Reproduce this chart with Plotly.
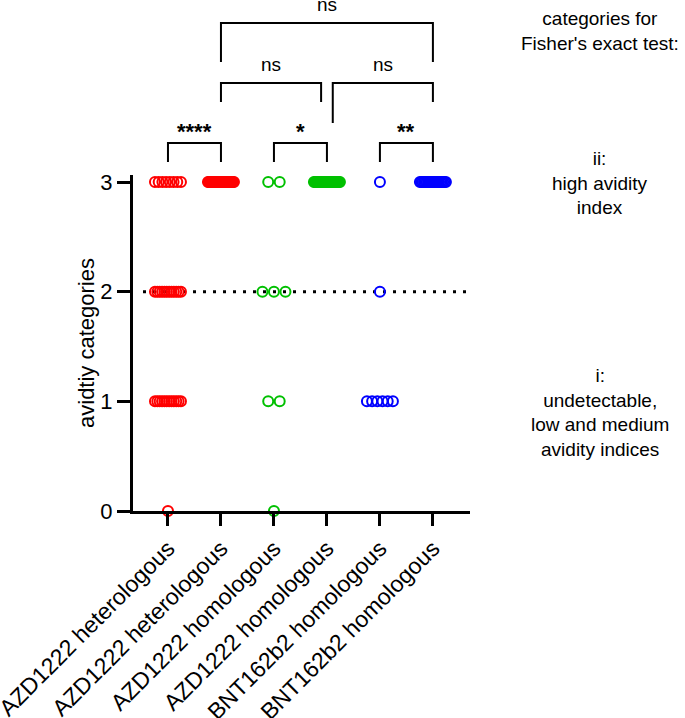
import plotly.graph_objects as go

# ---------------- data ----------------
tick_labels = ["AZD1222 heterologous", "AZD1222 heterologous", "AZD1222 homologous",
               "AZD1222 homologous", "BNT162b2 homologous", "BNT162b2 homologous"]
group_colors = ["#FF0000", "#FF0000", "#00C000", "#00C000", "#0000FF", "#0000FF"]
levels = [0, 1, 2, 3]
# number of participants per avidity category (levels 0..3) for each group
counts_g1 = [1, 12, 12, 8]
counts_g2 = [0, 0, 0, 30]
counts_g3 = [1, 2, 3, 2]
counts_g4 = [0, 0, 0, 25]
counts_g5 = [0, 6, 1, 1]
counts_g6 = [0, 0, 0, 20]
group_counts = [counts_g1, counts_g2, counts_g3, counts_g4, counts_g5, counts_g6]
y_ticks = [0, 1, 2, 3]
reference_level = 2

# significance comparisons: (group a, group b, label)
sig_low = [(0, 1, "****"), (2, 3, "*"), (4, 5, "**")]

# ---------------- layout constants ----------------
W, H = 685, 718
L, R, T, B = 133, 215, 175, 207
PW, PH = W - L - R, H - T - B
x_range = [-0.66, 5.70]
y_range = [0, 3.064]
px_per_cat = PW / (x_range[1] - x_range[0])

def xp(px):  # page pixel -> paper x
    return (px - L) / PW

def yp(py):  # page pixel -> paper y
    return (H - B - py) / PH

def cat_paper(c):
    return (c - x_range[0]) / (x_range[1] - x_range[0])

fig = go.Figure()

# scatter of points (horizontal spread computed from counts)
step_px, max_span_px = 11.5, 26.0
for g, counts in enumerate(group_counts):
    xs, ys = [], []
    for lv, n in zip(levels, counts):
        if n == 0:
            continue
        step = step_px if n == 1 else min(step_px, max_span_px / (n - 1))
        for i in range(n):
            off = (i - (n - 1) / 2) * step / px_per_cat
            xs.append(g + off)
            ys.append(lv)
    fig.add_trace(go.Scatter(
        x=xs, y=ys, mode="markers", cliponaxis=False, showlegend=False,
        marker=dict(symbol="circle-open", size=10, color=group_colors[g],
                    line=dict(width=2, color=group_colors[g])),
    ))

# dotted reference line
fig.add_shape(type="line", xref="paper", yref="y", x0=xp(143), x1=xp(468),
              y0=reference_level, y1=reference_level,
              line=dict(color="black", width=3, dash="3px,7px"), layer="below")

shapes_line = dict(color="black", width=2)

def bracket(ca, cb, top_px, left_bot_px, right_bot_px, xa=None, xb=None):
    x0 = cat_paper(ca) if xa is None else xa
    x1 = cat_paper(cb) if xb is None else xb
    path = (f"M {x0},{yp(left_bot_px)} L {x0},{yp(top_px)} "
            f"L {x1},{yp(top_px)} L {x1},{yp(right_bot_px)}")
    fig.add_shape(type="path", xref="paper", yref="paper", path=path, line=shapes_line)

annos = []

def label(x, y, text, size=19):
    annos.append(dict(x=x, y=y, xref="paper", yref="paper", text=text, showarrow=False,
                      xanchor="center", yanchor="middle", align="center",
                      font=dict(size=size, color="black")))

for a, b, lab in sig_low:
    bracket(a, b, 143, 162, 162)
    label(cat_paper((a + b) / 2), yp(131), f"<b>{lab}</b>", 22)

shift = 0.11
bracket(1, 3, 83, 102, 102, xb=cat_paper(3 - shift))
label(cat_paper(2 - shift / 2), yp(64), "ns")
bracket(3, 5, 83, 123, 102, xa=cat_paper(3 + shift))
label(cat_paper(4 + shift / 2), yp(64), "ns")
bracket(1, 5, 23, 62, 62)
label(cat_paper(3), yp(4), "ns")

label(xp(600), yp(31), "categories for<br>Fisher's exact test:")
label(xp(600), yp(183), "ii:<br>high avidity<br>index")
label(xp(600), yp(412), "i:<br>undetectable,<br>low and medium<br>avidity indices")

fig.update_layout(
    template="none",
    width=W, height=H, autosize=False,
    margin=dict(l=L, r=R, t=T, b=B, pad=0),
    paper_bgcolor="white", plot_bgcolor="white",
    font=dict(family="Liberation Sans, Arial, sans-serif", color="black"),
    annotations=annos,
    xaxis=dict(range=x_range, tickmode="array", tickvals=list(range(len(tick_labels))),
               ticktext=tick_labels, tickangle=-45, showgrid=False, zeroline=False,
               automargin=False, ticklabeloverflow="allow",
               showline=True, linecolor="black", linewidth=3,
               ticks="outside", ticklen=12, tickwidth=3, tickcolor="black",
               tickfont=dict(size=23, color="black")),
    yaxis=dict(range=y_range, tickmode="array", tickvals=y_ticks, showgrid=False, zeroline=False,
               automargin=False,
               showline=True, linecolor="black", linewidth=3,
               ticks="outside", ticklen=13, tickwidth=3, tickcolor="black",
               tickfont=dict(size=22, color="black"),
               title=dict(text="avidtiy categories", font=dict(size=22, color="black"), standoff=0)),
)

fig.write_html("out.html", config={"displayModeBar": False},
               post_script="document.body.style.margin='0';document.body.style.overflow='hidden';")
